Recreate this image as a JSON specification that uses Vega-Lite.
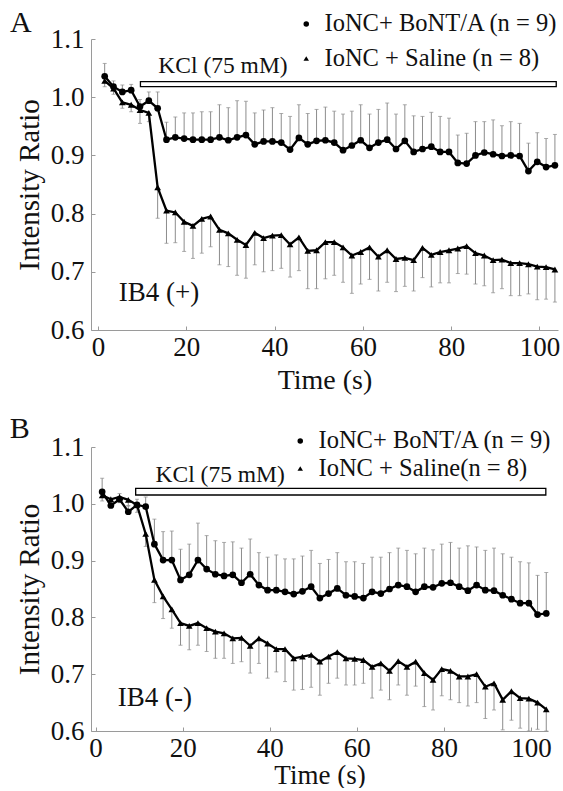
{
"$schema":"https://vega.github.io/schema/vega-lite/v6.json",
"background":"white",
"padding":{"left":9,"top":8,"right":0,"bottom":0},
"bounds":"flush",
"spacing":117,
"resolve":{"scale":{"x":"independent","y":"independent","shape":"independent"},"legend":{"shape":"independent"}},
"config":{
 "view":{"stroke":null},
 "font":"'Liberation Serif', 'Times New Roman', Times, 'DejaVu Serif', serif",
 "axis":{"grid":false},
 "text":{"font":"'Liberation Serif', 'Times New Roman', Times, 'DejaVu Serif', serif"}
},
"datasets":{
"kclA":[{"s":9.6,"f":103.8,"label":"KCl (75 mM)"}],
"kclB":[{"s":9.2,"f":103.4,"label":"KCl (75 mM)"}],
"A":[
{"g":"BoNT","t":1.5,"v":1.036,"e":1.058},{"g":"BoNT","t":3.5,"v":1.018,"e":1.028},{"g":"BoNT","t":5.5,"v":1.009,"e":1.021},{"g":"BoNT","t":7.5,"v":1.012,"e":1.022},{"g":"BoNT","t":9.5,"v":0.984,"e":0.996},{"g":"BoNT","t":11.5,"v":0.994,"e":1.009},{"g":"BoNT","t":13.5,"v":0.981,"e":1.009},{"g":"BoNT","t":15.5,"v":0.927,"e":0.957},{"g":"BoNT","t":17.5,"v":0.931,"e":0.966},{"g":"BoNT","t":19.5,"v":0.929,"e":0.973},
{"g":"BoNT","t":21.5,"v":0.927,"e":0.973},{"g":"BoNT","t":23.5,"v":0.927,"e":0.975},{"g":"BoNT","t":25.5,"v":0.927,"e":0.975},{"g":"BoNT","t":27.5,"v":0.931,"e":0.987},{"g":"BoNT","t":29.5,"v":0.926,"e":0.982},{"g":"BoNT","t":31.5,"v":0.931,"e":0.994},{"g":"BoNT","t":33.5,"v":0.935,"e":0.993},{"g":"BoNT","t":35.5,"v":0.919,"e":0.973},{"g":"BoNT","t":37.5,"v":0.924,"e":0.978},{"g":"BoNT","t":39.5,"v":0.924,"e":0.982},
{"g":"BoNT","t":41.5,"v":0.922,"e":0.972},{"g":"BoNT","t":43.5,"v":0.910,"e":0.967},{"g":"BoNT","t":45.5,"v":0.930,"e":0.987},{"g":"BoNT","t":47.5,"v":0.919,"e":0.972},{"g":"BoNT","t":49.5,"v":0.925,"e":0.979},{"g":"BoNT","t":51.5,"v":0.926,"e":0.983},{"g":"BoNT","t":53.5,"v":0.922,"e":0.976},{"g":"BoNT","t":55.5,"v":0.909,"e":0.971},{"g":"BoNT","t":57.5,"v":0.917,"e":0.976},{"g":"BoNT","t":59.5,"v":0.926,"e":0.987},
{"g":"BoNT","t":61.5,"v":0.913,"e":0.971},{"g":"BoNT","t":63.5,"v":0.922,"e":0.979},{"g":"BoNT","t":65.5,"v":0.927,"e":0.990},{"g":"BoNT","t":67.5,"v":0.911,"e":0.971},{"g":"BoNT","t":69.5,"v":0.925,"e":0.987},{"g":"BoNT","t":71.5,"v":0.906,"e":0.968},{"g":"BoNT","t":73.5,"v":0.911,"e":0.967},{"g":"BoNT","t":75.5,"v":0.915,"e":0.974},{"g":"BoNT","t":77.5,"v":0.906,"e":0.967},{"g":"BoNT","t":79.5,"v":0.906,"e":0.964},
{"g":"BoNT","t":81.5,"v":0.887,"e":0.935},{"g":"BoNT","t":83.5,"v":0.886,"e":0.938},{"g":"BoNT","t":85.5,"v":0.900,"e":0.958},{"g":"BoNT","t":87.5,"v":0.905,"e":0.958},{"g":"BoNT","t":89.5,"v":0.902,"e":0.961},{"g":"BoNT","t":91.5,"v":0.899,"e":0.951},{"g":"BoNT","t":93.5,"v":0.900,"e":0.958},{"g":"BoNT","t":95.5,"v":0.899,"e":0.955},{"g":"BoNT","t":97.5,"v":0.873,"e":0.921},{"g":"BoNT","t":99.5,"v":0.889,"e":0.939},
{"g":"BoNT","t":101.5,"v":0.880,"e":0.929},{"g":"BoNT","t":103.5,"v":0.883,"e":0.936},
{"g":"Saline","t":1.5,"v":1.028,"e":1.018},{"g":"Saline","t":3.5,"v":1.015,"e":1.005},{"g":"Saline","t":5.5,"v":0.991,"e":0.981},{"g":"Saline","t":7.5,"v":0.987,"e":0.975},{"g":"Saline","t":9.5,"v":0.978,"e":0.955},{"g":"Saline","t":11.5,"v":0.973,"e":0.958},{"g":"Saline","t":13.5,"v":0.845,"e":0.792},{"g":"Saline","t":15.5,"v":0.805,"e":0.749},{"g":"Saline","t":17.5,"v":0.802,"e":0.750},{"g":"Saline","t":19.5,"v":0.786,"e":0.735},
{"g":"Saline","t":21.5,"v":0.779,"e":0.723},{"g":"Saline","t":23.5,"v":0.791,"e":0.732},{"g":"Saline","t":25.5,"v":0.795,"e":0.743},{"g":"Saline","t":27.5,"v":0.772,"e":0.712},{"g":"Saline","t":29.5,"v":0.766,"e":0.709},{"g":"Saline","t":31.5,"v":0.755,"e":0.694},{"g":"Saline","t":33.5,"v":0.746,"e":0.689},{"g":"Saline","t":35.5,"v":0.767,"e":0.712},{"g":"Saline","t":37.5,"v":0.758,"e":0.700},{"g":"Saline","t":39.5,"v":0.762,"e":0.702},
{"g":"Saline","t":41.5,"v":0.763,"e":0.706},{"g":"Saline","t":43.5,"v":0.747,"e":0.691},{"g":"Saline","t":45.5,"v":0.759,"e":0.702},{"g":"Saline","t":47.5,"v":0.736,"e":0.671},{"g":"Saline","t":49.5,"v":0.737,"e":0.671},{"g":"Saline","t":51.5,"v":0.751,"e":0.688},{"g":"Saline","t":53.5,"v":0.751,"e":0.694},{"g":"Saline","t":55.5,"v":0.742,"e":0.682},{"g":"Saline","t":57.5,"v":0.728,"e":0.663},{"g":"Saline","t":59.5,"v":0.734,"e":0.679},
{"g":"Saline","t":61.5,"v":0.742,"e":0.687},{"g":"Saline","t":63.5,"v":0.726,"e":0.667},{"g":"Saline","t":65.5,"v":0.737,"e":0.682},{"g":"Saline","t":67.5,"v":0.722,"e":0.666},{"g":"Saline","t":69.5,"v":0.724,"e":0.675},{"g":"Saline","t":71.5,"v":0.720,"e":0.667},{"g":"Saline","t":73.5,"v":0.741,"e":0.690},{"g":"Saline","t":75.5,"v":0.729,"e":0.674},{"g":"Saline","t":77.5,"v":0.734,"e":0.681},{"g":"Saline","t":79.5,"v":0.737,"e":0.681},
{"g":"Saline","t":81.5,"v":0.740,"e":0.697},{"g":"Saline","t":83.5,"v":0.744,"e":0.696},{"g":"Saline","t":85.5,"v":0.732,"e":0.679},{"g":"Saline","t":87.5,"v":0.728,"e":0.676},{"g":"Saline","t":89.5,"v":0.720,"e":0.664},{"g":"Saline","t":91.5,"v":0.721,"e":0.671},{"g":"Saline","t":93.5,"v":0.715,"e":0.659},{"g":"Saline","t":95.5,"v":0.715,"e":0.659},{"g":"Saline","t":97.5,"v":0.713,"e":0.662},{"g":"Saline","t":99.5,"v":0.709,"e":0.652},
{"g":"Saline","t":101.5,"v":0.708,"e":0.653},{"g":"Saline","t":103.5,"v":0.704,"e":0.648}
],
"B":[
{"g":"BoNT","t":1.5,"v":1.021,"e":1.045},{"g":"BoNT","t":3.5,"v":0.997,"e":1.005},{"g":"BoNT","t":5.5,"v":1.008,"e":1.018},{"g":"BoNT","t":7.5,"v":0.986,"e":0.996},{"g":"BoNT","t":9.5,"v":0.998,"e":1.008},{"g":"BoNT","t":11.5,"v":0.995,"e":1.012},{"g":"BoNT","t":13.5,"v":0.929,"e":0.973},{"g":"BoNT","t":15.5,"v":0.901,"e":0.951},{"g":"BoNT","t":17.5,"v":0.901,"e":0.952},{"g":"BoNT","t":19.5,"v":0.866,"e":0.920},
{"g":"BoNT","t":21.5,"v":0.875,"e":0.929},{"g":"BoNT","t":23.5,"v":0.901,"e":0.966},{"g":"BoNT","t":25.5,"v":0.885,"e":0.944},{"g":"BoNT","t":27.5,"v":0.876,"e":0.935},{"g":"BoNT","t":29.5,"v":0.873,"e":0.932},{"g":"BoNT","t":31.5,"v":0.875,"e":0.933},{"g":"BoNT","t":33.5,"v":0.861,"e":0.922},{"g":"BoNT","t":35.5,"v":0.876,"e":0.938},{"g":"BoNT","t":37.5,"v":0.857,"e":0.914},{"g":"BoNT","t":39.5,"v":0.848,"e":0.906},
{"g":"BoNT","t":41.5,"v":0.848,"e":0.910},{"g":"BoNT","t":43.5,"v":0.845,"e":0.903},{"g":"BoNT","t":45.5,"v":0.841,"e":0.903},{"g":"BoNT","t":47.5,"v":0.846,"e":0.908},{"g":"BoNT","t":49.5,"v":0.854,"e":0.918},{"g":"BoNT","t":51.5,"v":0.834,"e":0.895},{"g":"BoNT","t":53.5,"v":0.842,"e":0.902},{"g":"BoNT","t":55.5,"v":0.851,"e":0.914},{"g":"BoNT","t":57.5,"v":0.839,"e":0.898},{"g":"BoNT","t":59.5,"v":0.837,"e":0.898},
{"g":"BoNT","t":61.5,"v":0.834,"e":0.895},{"g":"BoNT","t":63.5,"v":0.845,"e":0.906},{"g":"BoNT","t":65.5,"v":0.842,"e":0.906},{"g":"BoNT","t":67.5,"v":0.850,"e":0.914},{"g":"BoNT","t":69.5,"v":0.857,"e":0.922},{"g":"BoNT","t":71.5,"v":0.854,"e":0.918},{"g":"BoNT","t":73.5,"v":0.845,"e":0.912},{"g":"BoNT","t":75.5,"v":0.854,"e":0.922},{"g":"BoNT","t":77.5,"v":0.853,"e":0.919},{"g":"BoNT","t":79.5,"v":0.860,"e":0.929},
{"g":"BoNT","t":81.5,"v":0.861,"e":0.932},{"g":"BoNT","t":83.5,"v":0.854,"e":0.922},{"g":"BoNT","t":85.5,"v":0.847,"e":0.926},{"g":"BoNT","t":87.5,"v":0.857,"e":0.924},{"g":"BoNT","t":89.5,"v":0.848,"e":0.918},{"g":"BoNT","t":91.5,"v":0.847,"e":0.922},{"g":"BoNT","t":93.5,"v":0.839,"e":0.912},{"g":"BoNT","t":95.5,"v":0.832,"e":0.906},{"g":"BoNT","t":97.5,"v":0.825,"e":0.898},{"g":"BoNT","t":99.5,"v":0.825,"e":0.896},
{"g":"BoNT","t":101.5,"v":0.805,"e":0.874},{"g":"BoNT","t":103.5,"v":0.807,"e":0.879},
{"g":"Saline","t":1.5,"v":1.015,"e":1.005},{"g":"Saline","t":3.5,"v":1.008,"e":0.998},{"g":"Saline","t":5.5,"v":1.012,"e":1.002},{"g":"Saline","t":7.5,"v":1.007,"e":0.997},{"g":"Saline","t":9.5,"v":0.998,"e":0.985},{"g":"Saline","t":11.5,"v":0.947,"e":0.925},{"g":"Saline","t":13.5,"v":0.866,"e":0.826},{"g":"Saline","t":15.5,"v":0.837,"e":0.798},{"g":"Saline","t":17.5,"v":0.814,"e":0.781},{"g":"Saline","t":19.5,"v":0.790,"e":0.751},
{"g":"Saline","t":21.5,"v":0.785,"e":0.743},{"g":"Saline","t":23.5,"v":0.790,"e":0.751},{"g":"Saline","t":25.5,"v":0.781,"e":0.740},{"g":"Saline","t":27.5,"v":0.775,"e":0.728},{"g":"Saline","t":29.5,"v":0.772,"e":0.728},{"g":"Saline","t":31.5,"v":0.763,"e":0.719},{"g":"Saline","t":33.5,"v":0.764,"e":0.722},{"g":"Saline","t":35.5,"v":0.750,"e":0.702},{"g":"Saline","t":37.5,"v":0.763,"e":0.719},{"g":"Saline","t":39.5,"v":0.754,"e":0.693},
{"g":"Saline","t":41.5,"v":0.744,"e":0.704},{"g":"Saline","t":43.5,"v":0.744,"e":0.687},{"g":"Saline","t":45.5,"v":0.728,"e":0.672},{"g":"Saline","t":47.5,"v":0.731,"e":0.673},{"g":"Saline","t":49.5,"v":0.734,"e":0.677},{"g":"Saline","t":51.5,"v":0.722,"e":0.663},{"g":"Saline","t":53.5,"v":0.731,"e":0.684},{"g":"Saline","t":55.5,"v":0.739,"e":0.693},{"g":"Saline","t":57.5,"v":0.728,"e":0.681},{"g":"Saline","t":59.5,"v":0.727,"e":0.681},
{"g":"Saline","t":61.5,"v":0.725,"e":0.684},{"g":"Saline","t":63.5,"v":0.713,"e":0.658},{"g":"Saline","t":65.5,"v":0.719,"e":0.672},{"g":"Saline","t":67.5,"v":0.706,"e":0.655},{"g":"Saline","t":69.5,"v":0.723,"e":0.681},{"g":"Saline","t":71.5,"v":0.713,"e":0.663},{"g":"Saline","t":73.5,"v":0.722,"e":0.679},{"g":"Saline","t":75.5,"v":0.702,"e":0.643},{"g":"Saline","t":77.5,"v":0.690,"e":0.637},{"g":"Saline","t":79.5,"v":0.709,"e":0.662},
{"g":"Saline","t":81.5,"v":0.706,"e":0.655},{"g":"Saline","t":83.5,"v":0.696,"e":0.650},{"g":"Saline","t":85.5,"v":0.696,"e":0.644},{"g":"Saline","t":87.5,"v":0.700,"e":0.650},{"g":"Saline","t":89.5,"v":0.678,"e":0.622},{"g":"Saline","t":91.5,"v":0.684,"e":0.637},{"g":"Saline","t":93.5,"v":0.655,"e":0.602},{"g":"Saline","t":95.5,"v":0.670,"e":0.619},{"g":"Saline","t":97.5,"v":0.658,"e":0.605},{"g":"Saline","t":99.5,"v":0.657,"e":0.600},
{"g":"Saline","t":101.5,"v":0.650,"e":0.603},{"g":"Saline","t":103.5,"v":0.638,"e":0.600}
]
},
"vconcat":[
{
 "width":467,"height":291,
 "layer":[
  {"data":{"name":"A"},"mark":{"type":"rule","color":"#8c8c8c","strokeWidth":1},
   "encoding":{
    "x":{"field":"t","type":"quantitative","scale":{"domain":[-1.6,104.2],"nice":false,"zero":false},
     "axis":{"values":[0,20,40,60,80,100],"title":"Time (s)","grid":false,"domainColor":"#9a9a9a","tickColor":"#9a9a9a","tickSize":-4,"labelPadding":8,"labelFlush":false,"labelOverlap":false,"labelFont":"'Liberation Serif', 'Times New Roman', Times, serif","labelFontSize":27,"labelColor":"#111","titleFont":"'Liberation Serif', 'Times New Roman', Times, serif","titleFontSize":28,"titleFontWeight":"normal","titleColor":"#111","titlePadding":6}},
    "y":{"field":"v","type":"quantitative","scale":{"domain":[0.6,1.1],"nice":false,"zero":false},
     "axis":{"values":[0.6,0.7,0.8,0.9,1.0,1.1],"format":".1f","title":"Intensity Ratio","grid":false,"domainColor":"#9a9a9a","tickColor":"#9a9a9a","tickSize":-4,"labelPadding":11,"labelFlush":false,"labelOverlap":false,"labelFont":"'Liberation Serif', 'Times New Roman', Times, serif","labelFontSize":27,"labelColor":"#111","titleFont":"'Liberation Serif', 'Times New Roman', Times, serif","titleFontSize":29,"titleFontWeight":"normal","titleColor":"#111","titlePadding":6}},
    "y2":{"field":"e"}}},
  {"data":{"name":"A"},"mark":{"type":"tick","orient":"horizontal","color":"#8c8c8c","size":4,"thickness":1},
   "encoding":{"x":{"field":"t","type":"quantitative"},"y":{"field":"e","type":"quantitative"}}},
  {"data":{"name":"A"},"mark":{"type":"line","color":"black","strokeWidth":2.3},
   "encoding":{"x":{"field":"t","type":"quantitative"},"y":{"field":"v","type":"quantitative"},"detail":{"field":"g"}}},
  {"data":{"name":"A"},"mark":{"type":"point","filled":true,"color":"black","opacity":1,"size":45},
   "encoding":{"x":{"field":"t","type":"quantitative"},"y":{"field":"v","type":"quantitative"},
    "shape":{"field":"g","type":"nominal","scale":{"domain":["BoNT","Saline"],"range":["circle","triangle-up"]},
    "legend":{"title":null,"orient":"none","legendX":203,"legendY":-27.25,"rowPadding":9.5,"padding":0,"labelOffset":6,"labelLimit":600,"symbolSize":30,"symbolFillColor":"black","symbolStrokeColor":"black","labelFont":"'Liberation Serif', 'Times New Roman', Times, serif","labelFontSize":24.5,"labelColor":"#111","labelExpr":"datum.label === 'BoNT' ? 'IoNC+ BoNT/A (n = 9)' : 'IoNC + Saline (n = 8)'"}}}},
  {"data":{"name":"kclA"},"mark":{"type":"rect","fill":"white","stroke":"black","strokeWidth":1.3},
   "encoding":{"x":{"field":"s","type":"quantitative"},"x2":{"field":"f"},"y":{"datum":1.018},"y2":{"datum":1.0266}}},
  {"data":{"name":"kclA"},"mark":{"type":"text","font":"'Liberation Serif', 'Times New Roman', Times, serif","fontSize":23.5,"align":"center","baseline":"middle","color":"#111"},
   "encoding":{"x":{"datum":28.3},"y":{"datum":1.0536},"text":{"field":"label"}}},
  {"data":{"values":[{"label":"IB4 (+)"}]},"mark":{"type":"text","font":"'Liberation Serif', 'Times New Roman', Times, serif","fontSize":27,"align":"left","baseline":"middle","color":"#111"},
   "encoding":{"x":{"datum":4.7},"y":{"datum":0.6636},"text":{"field":"label"}}},
  {"data":{"values":[{"label":"A"}]},"mark":{"type":"text","font":"'Liberation Serif', 'Times New Roman', Times, serif","fontSize":30,"align":"center","baseline":"middle","color":"#111"},
   "encoding":{"x":{"datum":-17.5},"y":{"datum":1.127},"text":{"field":"label"}}}
 ]
},
{
 "width":457,"height":284,
 "layer":[
  {"data":{"name":"B"},"mark":{"type":"rule","color":"#8c8c8c","strokeWidth":1},
   "encoding":{
    "x":{"field":"t","type":"quantitative","scale":{"domain":[-1.06,103.9],"nice":false,"zero":false},
     "axis":{"values":[0,20,40,60,80,100],"title":"Time (s)","grid":false,"domainColor":"#9a9a9a","tickColor":"#9a9a9a","tickSize":-4,"labelPadding":8,"labelFlush":false,"labelOverlap":false,"labelFont":"'Liberation Serif', 'Times New Roman', Times, serif","labelFontSize":27,"labelColor":"#111","titleFont":"'Liberation Serif', 'Times New Roman', Times, serif","titleFontSize":27,"titleFontWeight":"normal","titleColor":"#111","titlePadding":1}},
    "y":{"field":"v","type":"quantitative","scale":{"domain":[0.6,1.1],"nice":false,"zero":false},
     "axis":{"values":[0.6,0.7,0.8,0.9,1.0,1.1],"format":".1f","title":"Intensity Ratio","grid":false,"domainColor":"#9a9a9a","tickColor":"#9a9a9a","tickSize":-4,"labelPadding":11,"labelFlush":false,"labelOverlap":false,"labelFont":"'Liberation Serif', 'Times New Roman', Times, serif","labelFontSize":27,"labelColor":"#111","titleFont":"'Liberation Serif', 'Times New Roman', Times, serif","titleFontSize":29,"titleFontWeight":"normal","titleColor":"#111","titlePadding":6}},
    "y2":{"field":"e"}}},
  {"data":{"name":"B"},"mark":{"type":"tick","orient":"horizontal","color":"#8c8c8c","size":4,"thickness":1},
   "encoding":{"x":{"field":"t","type":"quantitative"},"y":{"field":"e","type":"quantitative"}}},
  {"data":{"name":"B"},"mark":{"type":"line","color":"black","strokeWidth":2.3},
   "encoding":{"x":{"field":"t","type":"quantitative"},"y":{"field":"v","type":"quantitative"},"detail":{"field":"g"}}},
  {"data":{"name":"B"},"mark":{"type":"point","filled":true,"color":"black","opacity":1,"size":45},
   "encoding":{"x":{"field":"t","type":"quantitative"},"y":{"field":"v","type":"quantitative"},
    "shape":{"field":"g","type":"nominal","scale":{"domain":["BoNT","Saline"],"range":["circle","triangle-up"]},
    "legend":{"title":null,"orient":"none","legendX":197,"legendY":-18.25,"rowPadding":2.5,"padding":0,"labelOffset":6,"labelLimit":600,"symbolSize":30,"symbolFillColor":"black","symbolStrokeColor":"black","labelFont":"'Liberation Serif', 'Times New Roman', Times, serif","labelFontSize":24.5,"labelColor":"#111","labelExpr":"datum.label === 'BoNT' ? 'IoNC+ BoNT/A (n = 9)' : 'IoNC + Saline(n = 8)'"}}}},
  {"data":{"name":"kclB"},"mark":{"type":"rect","fill":"white","stroke":"black","strokeWidth":1.3},
   "encoding":{"x":{"field":"s","type":"quantitative"},"x2":{"field":"f"},"y":{"datum":1.0155},"y2":{"datum":1.0273}}},
  {"data":{"name":"kclB"},"mark":{"type":"text","font":"'Liberation Serif', 'Times New Roman', Times, serif","fontSize":23.5,"align":"center","baseline":"middle","color":"#111"},
   "encoding":{"x":{"datum":28.6},"y":{"datum":1.0507},"text":{"field":"label"}}},
  {"data":{"values":[{"label":"IB4 (-)"}]},"mark":{"type":"text","font":"'Liberation Serif', 'Times New Roman', Times, serif","fontSize":27,"align":"left","baseline":"middle","color":"#111"},
   "encoding":{"x":{"datum":5.1},"y":{"datum":0.658},"text":{"field":"label"}}},
  {"data":{"values":[{"label":"B"}]},"mark":{"type":"text","font":"'Liberation Serif', 'Times New Roman', Times, serif","fontSize":30,"align":"center","baseline":"middle","color":"#111"},
   "encoding":{"x":{"datum":-17.4},"y":{"datum":1.1317},"text":{"field":"label"}}}
 ]
}
]
}
